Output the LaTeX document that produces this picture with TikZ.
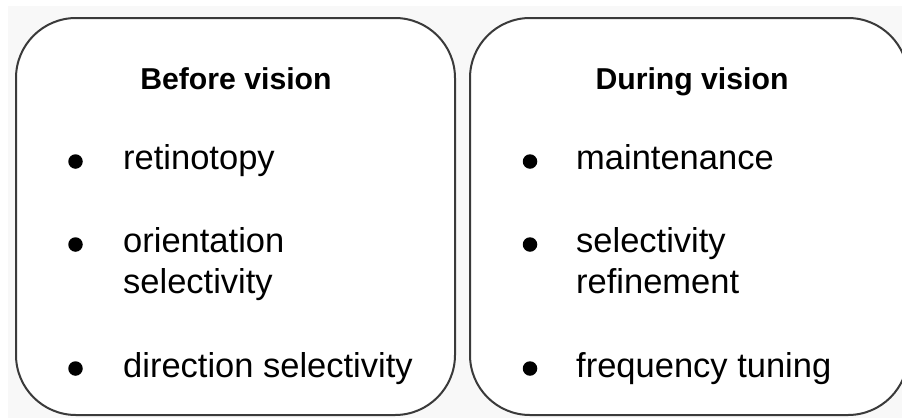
\documentclass[tikz,border=0pt]{standalone}
\usepackage{fontspec}
\setmainfont{Liberation Sans}
\definecolor{bggray}{HTML}{F8F8F8}
\definecolor{boxline}{HTML}{3A3A3A}
\tikzset{
  panel/.style={draw=boxline, line width=2pt, fill=white, rounded corners=60pt},
  heading/.style={anchor=base, inner sep=0pt, font=\fontsize{30.2}{34}\selectfont\bfseries},
  item/.style={anchor=base west, inner sep=0pt, font=\fontsize{34.5}{41}\selectfont},
  dot/.style={circle, fill=black, inner sep=0pt, minimum size=14.5pt}
}
\begin{document}
\begin{tikzpicture}[x=1pt, y=-1pt]
\useasboundingbox (0,0) rectangle (902,418);
\clip (0,0) rectangle (902,418);
\fill[bggray] (8,6) rectangle (902,418);
\draw[panel] (16,18) rectangle (455,415);
\draw[panel] (470,18) rectangle (908,415);
% left panel
\node[heading] (h1) at (236,89) {Before vision};
\node[dot] (b1) at (75.5,161.5) {};
\node[item] (t1) at (123,169) {retinotopy};
\node[dot] (b2) at (75.5,244.5) {};
\node[item] (t2) at (123,252) {orientation};
\node[item] (t2b) at (123,293) {selectivity};
\node[dot] (b3) at (75.5,368.5) {};
\node[item] (t3) at (123,377) {direction selectivity};
% right panel
\node[heading] (h2) at (692,89) {During vision};
\node[dot] (b4) at (530,161.5) {};
\node[item] (t4) at (576,169) {maintenance};
\node[dot] (b5) at (530,244.5) {};
\node[item] (t5) at (576,252) {selectivity};
\node[item] (t5b) at (576,293) {refinement};
\node[dot] (b6) at (530,368.5) {};
\node[item] (t6) at (576,377) {frequency tuning};
\end{tikzpicture}
\end{document}
